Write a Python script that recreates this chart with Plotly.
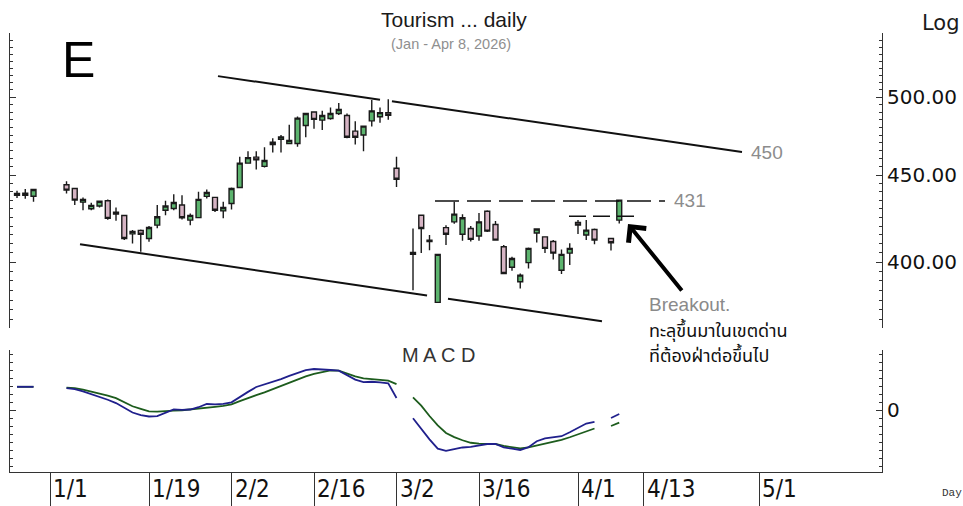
import plotly.graph_objects as go
import math

# ---------------- data ----------------
dates = [
    "2025-12-26", "2025-12-29", "2025-12-30",
    "2026-01-05", "2026-01-06", "2026-01-07", "2026-01-08", "2026-01-09",
    "2026-01-12", "2026-01-13", "2026-01-14", "2026-01-15", "2026-01-16",
    "2026-01-19", "2026-01-20", "2026-01-21", "2026-01-22", "2026-01-23",
    "2026-01-26", "2026-01-27", "2026-01-28", "2026-01-29", "2026-01-30",
    "2026-02-02", "2026-02-03", "2026-02-04", "2026-02-05", "2026-02-06",
    "2026-02-09", "2026-02-10", "2026-02-11", "2026-02-12", "2026-02-13",
    "2026-02-16", "2026-02-17", "2026-02-18", "2026-02-19", "2026-02-20",
    "2026-02-23", "2026-02-24", "2026-02-25", "2026-02-26", "2026-02-27",
    "2026-03-02", "2026-03-04", "2026-03-05", "2026-03-06",
    "2026-03-09", "2026-03-10", "2026-03-11", "2026-03-12", "2026-03-13",
    "2026-03-16", "2026-03-17", "2026-03-18", "2026-03-19", "2026-03-20",
    "2026-03-23", "2026-03-24", "2026-03-25", "2026-03-26", "2026-03-27",
    "2026-03-30", "2026-03-31", "2026-04-01", "2026-04-02", "2026-04-03",
    "2026-04-07", "2026-04-08",
]
open_ = [
    437.8, 437.9, 437.3,
    444.1, 441.9, 433.8, 429.9, 431.5,
    434.6, 428.0, 426.0, 415.6, 417.5,
    413.0, 420.5, 429.1, 430.1, 432.1,
    423.4, 424.8, 437.2, 436.6, 428.7,
    433.0, 442.5, 457.3, 461.0, 455.3,
    468.9, 472.2, 469.6, 469.6, 481.2,
    490.0, 484.7, 485.8, 489.0, 487.7,
    477.5, 475.0, 484.2, 486.9, 489.6,
    454.1, 405.2, 426.2, 412.1,
    378.8, 419.1, 422.4, 415.4, 418.6,
    414.4, 428.5, 420.9, 408.4, 397.2,
    389.5, 399.7, 416.1, 413.9, 411.3,
    395.6, 404.9, 422.0, 414.9, 418.0,
    413.0, 423.4,
]
high = [
    440.5, 441.6, 441.7,
    446.3, 442.3, 436.6, 433.4, 434.6,
    435.4, 430.7, 426.5, 417.7, 418.0,
    420.0, 432.1, 434.6, 438.4, 437.9,
    427.2, 439.9, 441.3, 436.9, 434.0,
    442.5, 461.3, 464.7, 464.7, 467.3,
    473.0, 475.0, 481.7, 487.0, 489.0,
    490.0, 490.8, 493.0, 496.0, 489.0,
    484.0, 480.8, 498.0, 493.0, 498.5,
    461.3, 418.6, 426.5, 414.9,
    404.5, 420.5, 434.0, 426.8, 420.0,
    427.5, 429.1, 422.9, 409.3, 402.9,
    393.9, 408.0, 418.6, 414.3, 412.1,
    406.9, 410.3, 423.4, 423.4, 418.6,
    413.0, 435.0,
]
low = [
    436.2, 435.8, 434.0,
    438.9, 432.1, 429.1, 429.1, 430.7,
    423.6, 423.0, 412.1, 410.2, 405.6,
    411.2, 418.7, 426.2, 429.1, 423.8,
    420.5, 424.4, 436.0, 428.0, 424.4,
    429.5, 442.0, 457.0, 453.4, 454.6,
    463.9, 464.0, 469.6, 467.6, 473.6,
    479.0, 478.2, 485.0, 488.0, 473.0,
    469.0, 464.7, 480.6, 483.0, 485.0,
    442.7, 385.1, 404.9, 406.5,
    378.5, 409.3, 421.3, 411.7, 411.3,
    411.7, 416.6, 412.0, 393.8, 395.3,
    386.0, 396.6, 410.8, 404.9, 401.4,
    393.6, 398.4, 415.5, 412.1, 409.8,
    406.3, 421.5,
]
close = [
    439.0, 439.1, 441.3,
    440.9, 435.0, 435.4, 431.9, 434.3,
    424.4, 426.8, 413.0, 417.0, 415.4,
    419.2, 425.3, 431.5, 433.6, 424.7,
    426.1, 435.4, 439.5, 429.1, 430.7,
    441.9, 457.3, 460.7, 459.3, 458.9,
    470.4, 473.8, 471.6, 486.0, 489.0,
    485.2, 487.7, 489.0, 491.7, 473.6,
    473.6, 480.8, 490.8, 489.6, 487.9,
    447.4, 404.3, 418.6, 411.3,
    404.2, 415.4, 426.8, 424.7, 412.5,
    422.4, 417.1, 412.1, 393.9, 402.0,
    393.0, 407.5, 418.3, 407.5, 404.9,
    404.2, 407.5, 420.5, 417.7, 412.1,
    410.6, 435.0,
]
macd = [
    5.8, 5.8, 5.8,
    5.45, 5.22, 4.67, 4.02, 3.37,
    2.56, 1.74, 0.48, -0.63, -1.28,
    -1.62, -1.52, -0.6, 0.15, 0.02,
    0.12, 0.69, 1.5, 1.43, 1.54,
    1.92, 3.29, 4.53, 5.76, 6.35,
    7.02, 7.72, 8.51, 9.33, 9.97,
    10.25, 10.2, 10.0, 9.85, 8.78,
    7.59, 6.96, 7.06, 6.9, 6.67,
    3.0, -2.07, -4.76, -7.34,
    -9.66, -10.2, -9.78, -9.37, -9.2,
    -8.79, -8.5, -8.5, -9.35, -9.68,
    -10.0, -9.3, -7.8, -7.12, -6.75,
    -6.55, -5.58, -4.42, -3.38, -2.95,
    -2.0, -1.0,
]
signal = [
    5.8, 5.8, 5.8,
    5.56, 5.45, 5.08, 4.64, 4.2,
    3.59, 2.97, 1.97, 0.93, 0.27,
    -0.35, -0.42, -0.38, -0.17, -0.06,
    0.11, 0.37, 0.59, 0.79, 1.04,
    1.4, 2.23, 3.03, 3.71, 4.4,
    5.19, 6.02, 6.84, 7.67, 8.39,
    9.03, 9.5, 9.9, 9.85, 9.07,
    8.42, 7.92, 7.71, 7.5, 7.33,
    6.45, 3.16, 1.07, -1.5,
    -3.85, -5.75, -6.77, -7.56, -8.19,
    -8.39, -8.5, -8.5, -8.98, -9.33,
    -9.58, -9.37, -8.93, -8.43, -7.94,
    -7.44, -6.81, -6.13, -5.38, -4.62,
    -4.0, -3.17,
]
holidays = ["2025-12-31", "2026-01-01", "2026-01-02", "2026-03-03", "2026-04-06"]

tick_dates = ["2026-01-01", "2026-01-19", "2026-02-02", "2026-02-16", "2026-03-02",
              "2026-03-16", "2026-04-01", "2026-04-13", "2026-05-01"]
tick_labels = ["1/1", "1/19", "2/2", "2/16", "3/2", "3/16", "4/1", "4/13", "5/1"]

price_ticks = [400, 450, 500]
price_tick_labels = ["400.00", "450.00", "500.00"]

# hand-drawn study lines (date, price)
upper_line_a_x = ["2026-01-29 20:38", "2026-02-26 12:00"]
upper_line_a_y = [514.4, 498.3]
upper_line_b_x = ["2026-02-27 22:48", "2026-04-29 09:07"]
upper_line_b_y = [497.2, 464.2]
lower_line_a_x = ["2026-01-07 03:16", "2026-03-06 04:48"]
lower_line_a_y = [409.8, 382.3]
lower_line_b_x = ["2026-03-10 17:46", "2026-04-06 09:50"]
lower_line_b_y = [380.7, 369.3]
resist_x = ["2026-03-09 04:00", "2026-04-16 01:12"]
resist_y = [434.4, 434.4]
short_resist_x = ["2026-03-31 09:50", "2026-04-10 18:29"]
short_resist_y = [425.6, 425.6]

x_range = ["2025-12-25 15:36", "2026-05-22 08:24"]
price_range = [365.9, 545.3]
macd_range = [-15.5, 15.0]

# ---------------- figure ----------------
def slot(d):
    return d + " 12:00"

cx = [slot(d) for d in dates]

fig = go.Figure()

line_style = dict(color="#111111", width=2)
for xs, ys in [(upper_line_a_x, upper_line_a_y), (upper_line_b_x, upper_line_b_y),
               (lower_line_a_x, lower_line_a_y), (lower_line_b_x, lower_line_b_y)]:
    fig.add_trace(go.Scatter(x=xs, y=ys, mode="lines", line=line_style,
                             xaxis="x", yaxis="y", showlegend=False, hoverinfo="skip"))
fig.add_trace(go.Scatter(x=resist_x, y=resist_y, mode="lines",
                         line=dict(color="#111111", width=1.5, dash="24px,8px"),
                         xaxis="x", yaxis="y", showlegend=False, hoverinfo="skip"))
fig.add_trace(go.Scatter(x=short_resist_x, y=short_resist_y, mode="lines",
                         line=dict(color="#111111", width=1.5, dash="17px,7px"),
                         xaxis="x", yaxis="y", showlegend=False, hoverinfo="skip"))

fig.add_trace(go.Candlestick(
    x=cx, open=open_, high=high, low=low, close=close,
    xaxis="x", yaxis="y", whiskerwidth=0,
    increasing=dict(fillcolor="#5cb46e", line=dict(color="#1a1a1a", width=1.4)),
    decreasing=dict(fillcolor="#d6b4c4", line=dict(color="#1a1a1a", width=1.4)),
    showlegend=False, hoverinfo="skip",
))

# MACD with breaks at holidays
pts = [(d, m, s) for d, m, s in zip(dates, macd, signal)] + [(h, None, None) for h in holidays]
pts.sort(key=lambda t: t[0])
mx = [slot(p[0]) for p in pts]
fig.add_trace(go.Scatter(x=mx, y=[p[2] for p in pts], mode="lines",
                         line=dict(color="#1d5c1d", width=1.8), connectgaps=False,
                         xaxis="x", yaxis="y2", showlegend=False, hoverinfo="skip"))
fig.add_trace(go.Scatter(x=mx, y=[p[1] for p in pts], mode="lines",
                         line=dict(color="#20208c", width=1.8), connectgaps=False,
                         xaxis="x", yaxis="y2", showlegend=False, hoverinfo="skip"))

L, R, T, B = 10, 81, 33, 34
W, H = 963, 506
PW, PH = W - L - R, H - T - B

def px(v):
    return (v - L) / PW

def py(v):
    return (H - B - v) / PH

axis_col = "#333333"
fig.update_layout(
    width=W, height=H,
    margin=dict(l=L, r=R, t=T, b=B, pad=0, autoexpand=False),
    paper_bgcolor="white", plot_bgcolor="white",
    showlegend=False,
    boxgap=0.15,
    xaxis=dict(
        type="date", range=x_range, automargin=False,
        rangebreaks=[dict(bounds=["sat", "mon"])],
        rangeslider=dict(visible=False),
        anchor="y2", showline=True, linecolor=axis_col, linewidth=1,
        ticks="outside", ticklen=34, tickwidth=1, tickcolor=axis_col,
        tickmode="array", tickvals=[slot(d) for d in tick_dates],
        showticklabels=False, showgrid=False, zeroline=False,
    ),
    yaxis=dict(
        domain=[py(328), 1.0], type="log", automargin=False,
        range=[math.log10(price_range[0]), math.log10(price_range[1])],
        side="right", anchor="x", showline=True, linecolor=axis_col, linewidth=1,
        mirror="ticks", ticks="inside", ticklen=6, tickcolor=axis_col,
        tickmode="array", tickvals=price_ticks, ticktext=price_tick_labels,
        tickfont=dict(family="DejaVu Sans", size=20, color="#111111"),
        minor=dict(tickmode="array", tickvals=list(range(365, 546, 5)),
                   ticks="inside", ticklen=3, tickcolor=axis_col, showgrid=False),
        showgrid=False, zeroline=False,
    ),
    yaxis2=dict(
        domain=[0.0, py(350)], range=macd_range, automargin=False,
        side="right", anchor="x", showline=True, linecolor=axis_col, linewidth=1,
        mirror="ticks", ticks="inside", ticklen=6, tickcolor=axis_col,
        tickmode="array", tickvals=[0], ticktext=["0"],
        tickfont=dict(family="DejaVu Sans", size=20, color="#111111"),
        minor=dict(tickmode="array", tickvals=list(range(-14, 15, 2)),
                   ticks="inside", ticklen=3, tickcolor=axis_col, showgrid=False),
        showgrid=False, zeroline=False,
    ),
)

ann = []
sans = "Liberation Sans, Arial, sans-serif"
ann.append(dict(text="Tourism ... daily", x=px(454), y=py(20), xref="paper", yref="paper",
                xanchor="center", yanchor="middle", showarrow=False,
                font=dict(family=sans, size=21, color="#1a1a1a")))
ann.append(dict(text="(Jan - Apr 8, 2026)", x=px(451), y=py(44), xref="paper", yref="paper",
                xanchor="center", yanchor="middle", showarrow=False,
                font=dict(family=sans, size=14.5, color="#8f8f8f")))
ann.append(dict(text="E", x=px(60), y=py(60), xref="paper", yref="paper",
                xanchor="left", yanchor="middle", showarrow=False,
                font=dict(family=sans, size=50, color="#000000")))
ann.append(dict(text="M A C D", x=px(438), y=py(355), xref="paper", yref="paper",
                xanchor="center", yanchor="middle", showarrow=False,
                font=dict(family=sans, size=20, color="#333333")))
ann.append(dict(text="Log", x=px(961), y=py(23), xref="paper", yref="paper",
                xanchor="right", yanchor="middle", showarrow=False, borderpad=0,
                font=dict(family="DejaVu Sans", size=21, color="#1a1a1a")))
ann.append(dict(text="450", x=px(749), y=py(153), xref="paper", yref="paper",
                xanchor="left", yanchor="middle", showarrow=False,
                font=dict(family=sans, size=19, color="#8c8c8c")))
ann.append(dict(text="431", x=px(672), y=py(201), xref="paper", yref="paper",
                xanchor="left", yanchor="middle", showarrow=False,
                font=dict(family=sans, size=19, color="#8c8c8c")))
ann.append(dict(text="Breakout.", x=px(647), y=py(304), xref="paper", yref="paper",
                xanchor="left", yanchor="middle", showarrow=False,
                font=dict(family=sans, size=19, color="#8a8a8a")))
thai = "Noto Sans Thai, Noto Sans Thai UI, Noto Sans, Tahoma, sans-serif"
ann.append(dict(text="ทะลุขึ้นมาในเขตด่าน", x=px(647), y=py(331), xref="paper", yref="paper",
                xanchor="left", yanchor="middle", showarrow=False,
                font=dict(family=thai, size=18, color="#111111")))
ann.append(dict(text="ที่ต้องฝ่าต่อขึ้นไป", x=px(647), y=py(357), xref="paper", yref="paper",
                xanchor="left", yanchor="middle", showarrow=False,
                font=dict(family=thai, size=18, color="#111111")))
ann.append(dict(text="Day", x=px(940), y=py(493), xref="paper", yref="paper",
                xanchor="left", yanchor="middle", showarrow=False,
                font=dict(family="Liberation Mono, DejaVu Sans Mono, monospace", size=11, color="#333333")))
ann.append(dict(text="", x=px(628), y=py(224), xref="paper", yref="paper",
                showarrow=True, ax=55, ay=68, axref="pixel", ayref="pixel",
                arrowhead=4, arrowsize=1.1, arrowwidth=4, arrowcolor="#000000", standoff=0))
for d, t in zip(tick_dates, tick_labels):
    ann.append(dict(text=t, x=slot(d), y=py(474), xref="x", yref="paper",
                    xanchor="left", yanchor="top", xshift=2, showarrow=False, borderpad=0,
                    font=dict(family="Liberation Sans Narrow, Arial Narrow, DejaVu Sans Condensed, sans-serif",
                              size=24, color="#111111")))
fig.update_layout(annotations=ann)

fig.write_html("out.html", config={"displayModeBar": False},
               post_script="document.body.style.margin='0';")
